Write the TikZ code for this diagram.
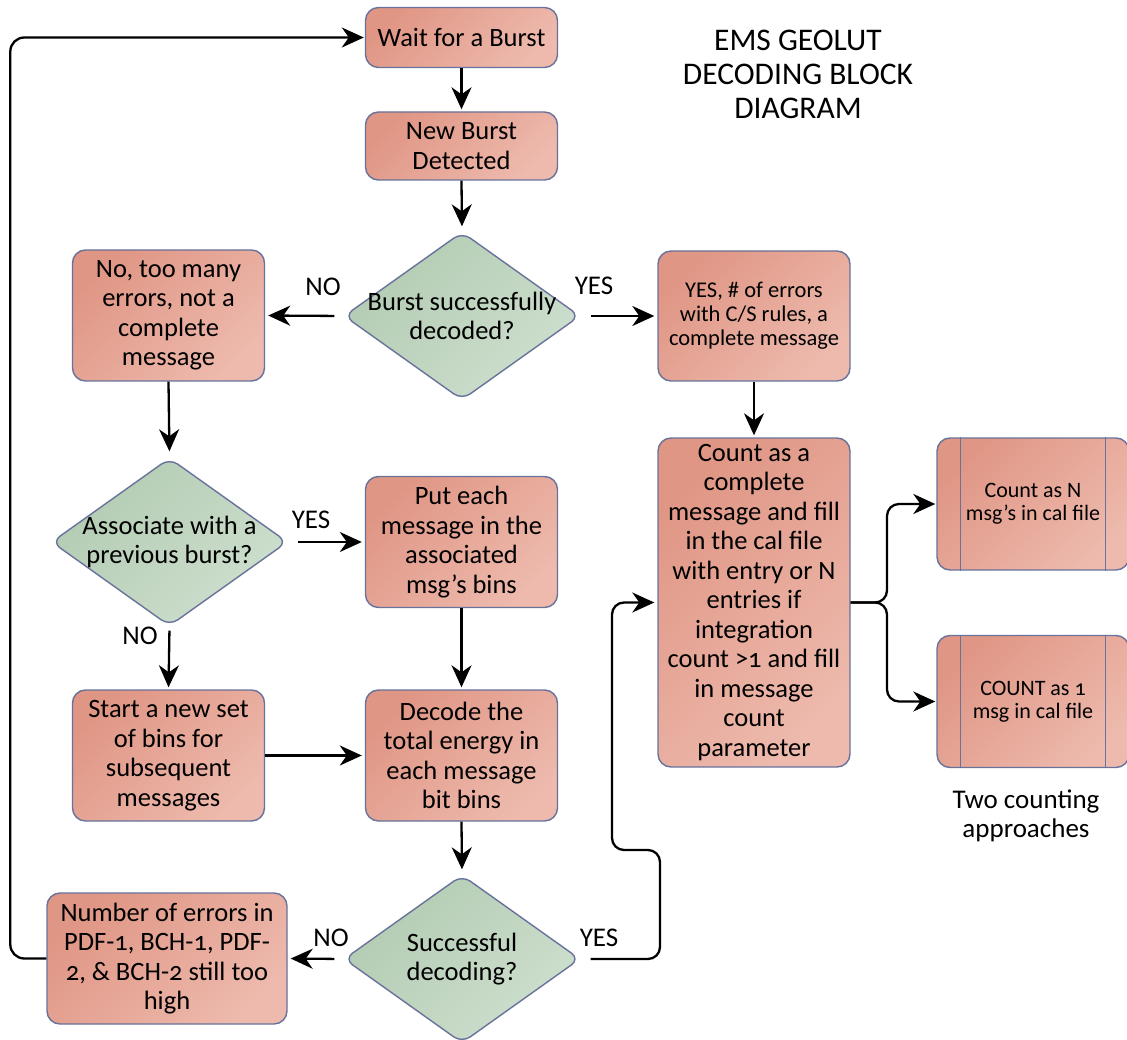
\documentclass[tikz,border=0pt]{standalone}
\usepackage{fontspec}
\setmainfont{Carlito}[Numbers=OldStyle]
\usetikzlibrary{shapes.geometric, arrows.meta}
\definecolor{boxA}{HTML}{E09685}
\definecolor{boxB}{HTML}{EDBAAD}
\definecolor{diaA}{HTML}{B2CBB2}
\definecolor{diaB}{HTML}{CEDFCE}
\definecolor{edgecol}{HTML}{68729A}
\begin{document}
\begin{tikzpicture}[x=1pt, y=-1pt,
  box/.style={draw=edgecol, line width=1.4pt, rounded corners=13pt,
    top color=boxA, bottom color=boxB, shading angle=45,
    minimum width=192pt, minimum height=131pt, align=center, inner sep=2pt,
    font=\fontsize{26.5}{29.5}\selectfont},
  smallbox/.style={box, font=\fontsize{22.5}{24}\selectfont},
  procbox/.style={box, font=\fontsize{22}{23.5}\selectfont, minimum height=132pt},
  dia/.style={diamond, draw=edgecol, line width=1.4pt, rounded corners=10pt,
    top color=diaA, bottom color=diaB, shading angle=45,
    minimum width=236pt, minimum height=168pt, inner xsep=-50pt, inner ysep=-20pt,
    align=center, font=\fontsize{26.5}{29.5}\selectfont},
  lab/.style={font=\fontsize{27}{30}\selectfont, inner sep=0pt},
  arr/.style={line width=2.3pt, -{Stealth[length=22pt, width=20pt, inset=7pt]}},
]
\useasboundingbox (0,0) rectangle (1127,1040);

% nodes
\node[box, minimum height=60pt] (wait) at (461.5,37.5) {Wait for a Burst};
\node[box, minimum height=68pt] (new) at (461.5,146) {New Burst\\Detected};
\node[dia] (d1) at (462,316) {Burst successfully\\decoded?};
\node[box] (no1) at (168.5,315.5) {No, too many\\errors, not a\\complete\\message};
\node[smallbox, minimum height=130pt] (yes1) at (754,316) {YES, \# of errors\\with C/S rules, a\\complete message};
\node[dia] (d2) at (169.5,542) {Associate with a\\previous burst?};
\node[box] (put) at (461.5,542) {Put each\\message in the\\associated\\msg’s bins};
\node[box] (start) at (168.5,755.5) {Start a new set\\of bins for\\subsequent\\messages};
\node[box] (decode) at (461.5,755.5) {Decode the\\total energy in\\each message\\bit bins};
\node[dia] (d3) at (462,959) {Successful\\decoding?};
\node[box, minimum width=240pt] (err) at (167,958.5) {Number of errors in\\PDF-1, BCH-1, PDF-\\2, \& BCH-2 still too\\high};
\node[box, minimum height=329pt] (count) at (754,602.5) {Count as a\\complete\\message and fill\\in the cal file\\with entry or N\\entries if\\integration\\count >1 and fill\\in message\\count\\parameter};
\node[procbox] (cn) at (1033,504) {Count as N\\msg’s in cal file};
\node[procbox] (c1) at (1033,701.5) {COUNT as 1\\msg in cal file};
\draw[edgecol, line width=1.4pt] ([xshift=24pt]cn.north west) -- ([xshift=24pt]cn.south west);
\draw[edgecol, line width=1.4pt] ([xshift=-24pt]cn.north east) -- ([xshift=-24pt]cn.south east);
\draw[edgecol, line width=1.4pt] ([xshift=24pt]c1.north west) -- ([xshift=24pt]c1.south west);
\draw[edgecol, line width=1.4pt] ([xshift=-24pt]c1.north east) -- ([xshift=-24pt]c1.south east);

\node[align=center, font=\fontsize{31.5}{34}\selectfont] (title) at (798,74) {EMS GEOLUT\\DECODING BLOCK\\DIAGRAM};
\node[align=center, font=\fontsize{27}{29}\selectfont] (two) at (1026,816) {Two counting\\approaches};

% labels
\node[lab] (lno1) at (323,287) {NO};
\node[lab] (lyes1) at (594,286) {YES};
\node[lab] (lyes2) at (311,520) {YES};
\node[lab] (lno2) at (140,636) {NO};
\node[lab] (lno3) at (331,938) {NO};
\node[lab] (lyes3) at (599,938) {YES};

% connectors
\draw[arr, shorten >=2pt] (wait.south) -- (new.north);
\draw[arr, shorten >=5pt] (new.south) -- (d1.north);
\draw[arr, shorten <=9pt, shorten >=3pt] (d1.west) -- (no1.east);
\draw[arr, shorten <=10pt, shorten >=3pt] (d1.east) -- (yes1.west);
\draw[arr, shorten >=2pt] (yes1.south) -- (count.north);
\draw[arr, shorten >=6pt] (no1.south) -- (d2.north);
\draw[arr, shorten <=10pt, shorten >=3pt] (d2.east) -- (put.west);
\draw[arr, shorten <=4pt, shorten >=2pt] (d2.south) -- (start.north);
\draw[arr, shorten >=2pt] (put.south) -- (decode.north);
\draw[arr, shorten >=3pt] (start.east) -- (decode.west);
\draw[arr, shorten >=5pt] (decode.south) -- (d3.north);
\draw[arr, shorten <=9pt, shorten >=3pt] (d3.west) -- (err.east);
\draw[arr, rounded corners=14pt, shorten >=1pt] (err.west) -- ([xshift=-36pt]err.west) |- (wait.west);
\draw[arr, rounded corners=12pt, shorten <=10pt, shorten >=3pt] (d3.east) -- (660,959) -- (660,850) -- (612,850) |- (count.west);
\draw[arr, rounded corners=12pt, shorten >=1pt] (count.east) -- (887,602.5) |- (cn.west);
\draw[arr, rounded corners=12pt, shorten >=1pt] (count.east) -- (887,602.5) |- (c1.west);
\end{tikzpicture}
\end{document}
